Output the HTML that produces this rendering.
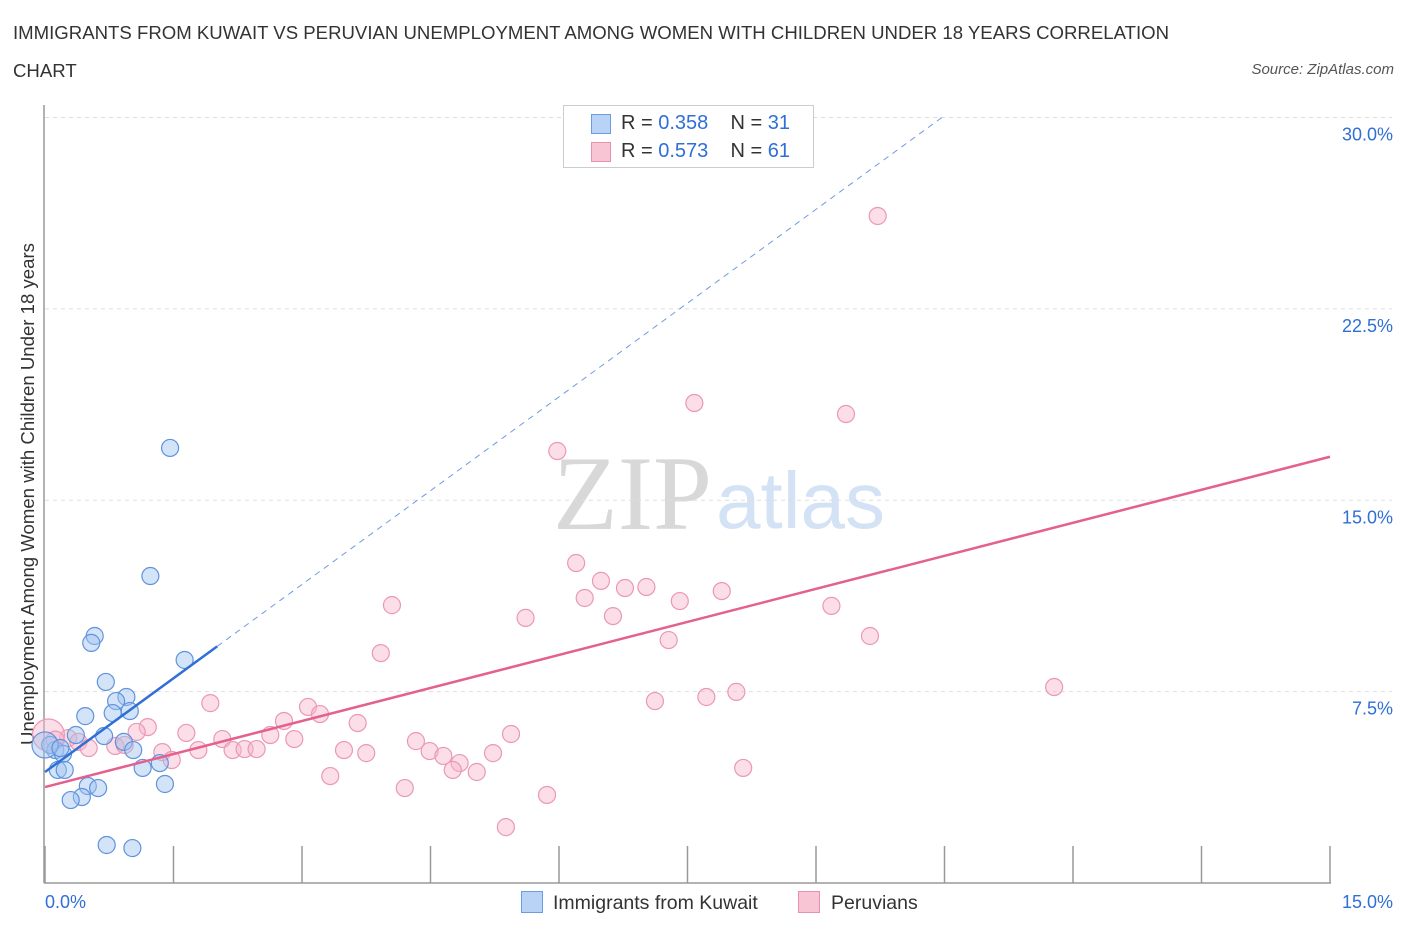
<!DOCTYPE html>
<html><head><meta charset="utf-8"><style>
body{margin:0;background:#fff;font-family:"Liberation Sans",sans-serif;}
#wrap{position:relative;width:1406px;height:930px;overflow:hidden;}
.t{position:absolute;white-space:nowrap;}
</style></head><body>
<div id="wrap">
<div class="t" style="left:13px;top:14px;font-size:18.6px;color:#333;line-height:38px;">IMMIGRANTS FROM KUWAIT VS PERUVIAN UNEMPLOYMENT AMONG WOMEN WITH CHILDREN UNDER 18 YEARS CORRELATION<br>CHART</div>
<div class="t" style="right:12px;top:61px;font-size:15px;color:#555;font-style:italic;">Source: ZipAtlas.com</div>
<div class="t" style="left:28px;top:494px;font-size:18.6px;color:#333;transform:translate(-50%,-50%) rotate(-90deg);">Unemployment Among Women with Children Under 18 years</div>
<svg id="svg" width="1406" height="930" style="position:absolute;left:0;top:0"></svg>
<div style="position:absolute;left:563px;top:105px;width:249px;height:61px;border:1px solid #ccc;background:#fff;font-size:20px;">
 <div style="position:absolute;left:27px;top:8px;width:18px;height:18px;background:#b8d3f5;border:1px solid #6b9be0;"></div>
 <div class="t" style="left:57px;top:6px;color:#333;">R = <span style="color:#2f6fd6">0.358</span>&nbsp;&nbsp;&nbsp; N = <span style="color:#2f6fd6">31</span></div>
 <div style="position:absolute;left:27px;top:36px;width:18px;height:18px;background:#f8c5d5;border:1px solid #e890ac;"></div>
 <div class="t" style="left:57px;top:34px;color:#333;">R = <span style="color:#2f6fd6">0.573</span>&nbsp;&nbsp;&nbsp; N = <span style="color:#2f6fd6">61</span></div>
</div>
<div style="position:absolute;left:521px;top:891px;width:20px;height:20px;background:#b8d3f5;border:1px solid #6b9be0;"></div>
<div class="t" style="left:553px;top:892px;font-size:19.5px;color:#333;">Immigrants from Kuwait</div>
<div style="position:absolute;left:798px;top:891px;width:20px;height:20px;background:#f8c5d5;border:1px solid #e890ac;"></div>
<div class="t" style="left:831px;top:892px;font-size:19.5px;color:#333;">Peruvians</div>
</div>
<script>
const kuwaitX=[1.46,1.23,0.58,0.54,1.63,0.71,0.95,0.83,0.99,0.79,0.47,0.36,0.69,0.92,1.03,0.12,0.21,1.34,1.14,0.15,0.23,1.40,0.50,0.62,0.43,0.30,0.72,1.02,0.06,0.0,0.18];
const kuwaitY=[17.05,12.03,9.68,9.41,8.74,7.88,7.29,7.13,6.74,6.66,6.54,5.80,5.76,5.53,5.21,5.21,5.06,4.70,4.51,4.43,4.43,3.88,3.80,3.72,3.37,3.25,1.49,1.37,5.41,5.41,5.29];
const peruX=[9.72,7.58,9.35,5.98,6.20,6.49,6.77,7.02,6.30,7.90,7.41,4.05,9.18,5.61,6.63,9.63,7.28,3.92,11.78,8.07,7.72,7.12,1.93,3.07,3.21,2.79,1.20,3.65,1.07,1.65,2.63,2.91,5.44,2.07,4.33,0.27,0.39,0.51,0.82,0.93,1.37,1.79,2.19,2.33,2.47,3.49,3.75,4.49,4.65,5.23,1.48,4.84,4.76,5.04,3.33,8.15,4.20,5.86,5.38,0.04,0.12];
const peruY=[26.14,18.81,18.38,16.93,12.54,11.84,11.56,11.60,11.17,11.44,11.05,10.89,10.86,10.39,10.46,9.68,9.52,9.01,7.68,7.49,7.29,7.13,7.05,6.90,6.62,6.35,6.11,6.27,5.92,5.88,5.80,5.64,5.84,5.64,5.56,5.68,5.53,5.29,5.37,5.41,5.13,5.21,5.21,5.25,5.25,5.21,5.09,5.17,4.98,5.09,4.82,4.70,4.43,4.35,4.19,4.51,3.72,3.45,2.19,5.80,5.60];
const kuwaitTrend=[4.35,2.45]; // intercept, slope
const peruTrend=[3.76,0.863];
const yTicks=[7.5,15,22.5,30];
const yTickLabels=["7.5%","15.0%","22.5%","30.0%"];
const xTicks=[0,1.5,3,4.5,6,7.5,9,10.5,12,13.5,15];

const X0=45,X1=1330,Y0=883,Y30=117.5;
const sx=v=>X0+(X1-X0)*v/15;
const sy=v=>Y0-(Y0-Y30)*v/30;
const svg=document.getElementById('svg');
const NS='http://www.w3.org/2000/svg';
function mk(tag,attrs){const e=document.createElementNS(NS,tag);for(const k in attrs)e.setAttribute(k,attrs[k]);svg.appendChild(e);return e;}
function tx(x,y,s,attrs){const e=mk('text',Object.assign({x:x,y:y},attrs));e.textContent=s;return e;}

let w=tx(553,529,'ZIP',{'font-family':'Liberation Serif, serif','font-size':106,fill:'#d8d8d8'});


w=tx(716,528,'atlas',{'font-family':'Liberation Sans, sans-serif','font-size':80,fill:'#d3e2f5'});



yTicks.forEach((v,i)=>{
 const g=mk('line',{x1:45,x2:1392,y1:sy(v),y2:sy(v),stroke:'#ddd','stroke-dasharray':'4,4'});
 
 
 const l=tx(1393,sy(v)+23,yTickLabels[i],{'text-anchor':'end','font-size':18,fill:'#2f6fd6','font-family':'Liberation Sans, sans-serif'});
 
 
});
let a=mk('line',{x1:44,x2:44,y1:105,y2:883,stroke:'#999','stroke-width':1.5});


a=mk('line',{x1:44,x2:1331,y1:883,y2:883,stroke:'#999','stroke-width':1.5});


xTicks.forEach(v=>{
 const t=mk('line',{x1:sx(v),x2:sx(v),y1:846,y2:883,stroke:'#999','stroke-width':1.5});
 
 
});
let xl=tx(45,908,'0.0%',{'font-size':18,fill:'#2f6fd6','font-family':'Liberation Sans, sans-serif'});


xl=tx(1393,908,'15.0%',{'text-anchor':'end','font-size':18,fill:'#2f6fd6','font-family':'Liberation Sans, sans-serif'});



peruX.forEach((v,i)=>{
 const r=(i>=59)?(i==59?16:9):8.5;
 const c=mk('circle',{cx:sx(v),cy:sy(peruY[i]),r:r,fill:'rgba(246,182,203,0.45)',stroke:'#eb98b3','stroke-width':1.2});
 
 
});
kuwaitX.forEach((v,i)=>{
 const r=(i==29)?13:8.5;
 const c=mk('circle',{cx:sx(v),cy:sy(kuwaitY[i]),r:r,fill:'rgba(160,195,240,0.45)',stroke:'#5f93dc','stroke-width':1.2});
 
 
});
const kb=kuwaitTrend[0],km=kuwaitTrend[1];
let ln=mk('line',{x1:sx(0),y1:sy(kb),x2:sx(2.01),y2:sy(kb+km*2.01),stroke:'#2f6fd6','stroke-width':2.5});


const xe=(30-kb)/km;
ln=mk('line',{x1:sx(2.01),y1:sy(kb+km*2.01),x2:sx(xe),y2:sy(30),stroke:'#6f9be0','stroke-width':1,'stroke-dasharray':'6,5'});


ln=mk('line',{x1:sx(0),y1:sy(peruTrend[0]),x2:sx(15),y2:sy(peruTrend[0]+peruTrend[1]*15),stroke:'#e4608f','stroke-width':2.5});


</script>
</body></html>
